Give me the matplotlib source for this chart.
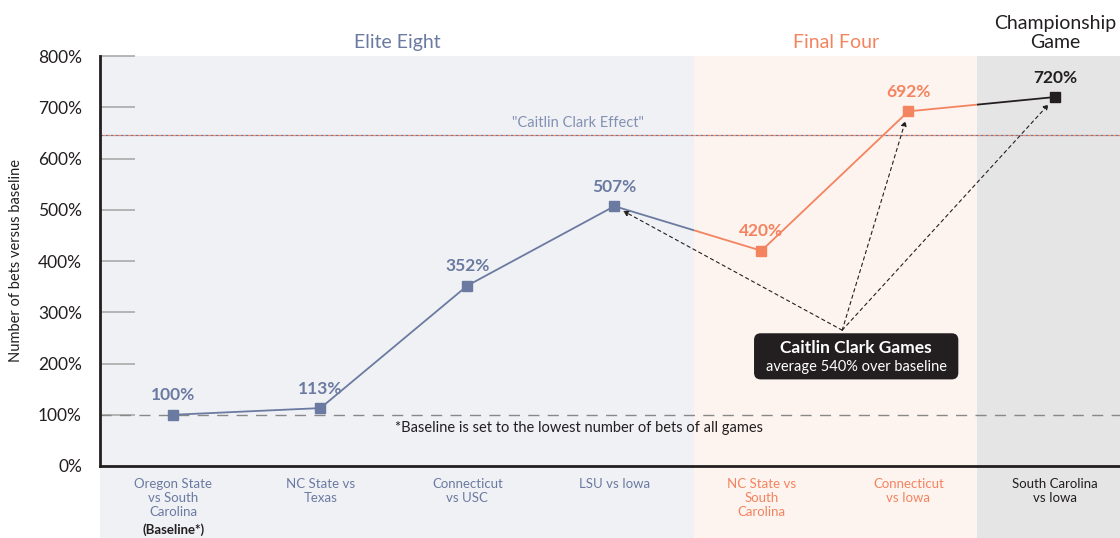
import matplotlib
matplotlib.use("Agg")
import matplotlib.pyplot as plt
from matplotlib.patches import Rectangle, FancyBboxPatch

plt.rcParams['font.family'] = ['Lato', 'DejaVu Sans']

############################################################################
# Data
############################################################################

games = ["Oregon State\nvs South\nCarolina", "NC State vs\nTexas", "Connecticut\nvs USC",
         "LSU vs Iowa", "NC State vs\nSouth\nCarolina", "Connecticut\nvs Iowa",
         "South Carolina\nvs Iowa"]
bets = [100, 113, 352, 507, 420, 692, 720]
labels = ["100%", "113%", "352%", "507%", "420%", "692%", "720%"]
stage = [0, 0, 0, 0, 1, 1, 2]
stage_names = ["Elite Eight", "Final Four", "Championship\nGame"]
effect = 646
baseline = 100
clark_games = [3, 5, 6]

blue = "#6b7aa1"
orange = "#f4845f"
black = "#231f20"
stage_col = [blue, orange, black]
stage_bg = ["#f0f1f5", "#fdf3ef", "#e5e5e5"]
stage_lim = [(-0.5, 3.54), (3.54, 5.47), (5.47, 6.45)]

############################################################################
# Figure
############################################################################

fig = plt.figure(figsize=(11.2, 5.38), dpi=100)
ax = fig.add_axes([100/1120, 72/538, 1020/1120, 410/538])
ax.set_xlim(-0.5, 6.44)
ax.set_ylim(0, 800)

below = -72/410
for i in range(3):
    ax.axvspan(stage_lim[i][0], stage_lim[i][1], ymin=below, ymax=1,
               color=stage_bg[i], lw=0, clip_on=False, zorder=0)

# line, coloured by stage (clip each copy to its region)
x = list(range(len(bets)))
for i in range(3):
    ln, = ax.plot(x, bets, color=stage_col[i], lw=1.3, zorder=3)
    r = Rectangle((stage_lim[i][0], 0), stage_lim[i][1]-stage_lim[i][0], 800,
                  transform=ax.transData)
    ln.set_clip_path(r)

for i in x:
    c = stage_col[stage[i]]
    ax.plot(i, bets[i], marker="s", ms=7.5, color=c, zorder=4)
    ax.text(i, bets[i] + 22, labels[i], ha="center", va="bottom",
            fontsize=12.5, fontweight="bold", color=c, zorder=5)

# baseline + caitlin clark effect line
ax.axhline(baseline, color="#888888", lw=1, dashes=(8, 6), zorder=2)
ax.axhline(effect, color=blue, lw=0.9, linestyle=(0, (2, 2)), zorder=2)
ax.axhline(effect, color=orange, lw=0.9, linestyle=(2, (2, 2)), zorder=2)
ax.text(2.75, effect + 10, '"Caitlin Clark Effect"', ha="center", va="bottom",
        fontsize=10.5, color="#8391b3")
ax.text(2.76, 74, "*Baseline is set to the lowest number of bets of all games",
        ha="center", va="center", fontsize=10.5, color=black)

# section titles
for i in range(3):
    cx = (stage_lim[i][0] + stage_lim[i][1]) / 2
    if i == 2:
        ax.text(6.0, 1.012, stage_names[i], transform=ax.get_xaxis_transform(),
                ha="center", va="bottom", fontsize=14, color=stage_col[i],
                linespacing=1.15)
    else:
        ax.text(cx, 1.034, stage_names[i], transform=ax.get_xaxis_transform(),
                ha="center", va="center", fontsize=14, color=stage_col[i])

# x labels
ax.set_xticks([])
for i in x:
    ax.text(i, -0.029, games[i], transform=ax.get_xaxis_transform(),
            ha="center", va="top", fontsize=9.5, color=stage_col[stage[i]],
            linespacing=1.2)
ax.text(0, -0.141, "(Baseline*)", transform=ax.get_xaxis_transform(),
        ha="center", va="top", fontsize=9.5, fontweight="bold", color=black)

# annotation box with arrows
for i in clark_games:
    ax.annotate("", xy=(i, bets[i]), xytext=(4.55, 265),
                arrowprops=dict(arrowstyle="-|>", linestyle=(0, (3, 3)), lw=0.8,
                                color=black, shrinkA=0, shrinkB=7,
                                mutation_scale=8))
box = FancyBboxPatch((3.95, 169), 1.39, 90, boxstyle="round,pad=0,rounding_size=0.045",
                     mutation_aspect=290, fc=black, ec="none", zorder=6)
ax.add_patch(box)
ax.text(4.645, 230, "Caitlin Clark Games", ha="center", va="center",
        fontsize=12.5, fontweight="bold", color="white", zorder=7)
ax.text(4.645, 193, "average 540% over baseline", ha="center", va="center",
        fontsize=10.5, color="white", zorder=7)

# Remove plot frame lines
ax.spines["top"].set_visible(False)
ax.spines["right"].set_visible(False)
ax.spines["left"].set_linewidth(2)
ax.spines["bottom"].set_linewidth(2)
ax.spines["left"].set_color(black)
ax.spines["bottom"].set_color(black)
ax.set_yticks(range(0, 801, 100))
ax.set_yticklabels([f"{v}%" for v in range(0, 801, 100)])
ax.tick_params(axis="y", direction="in", length=25, width=1.2, color="#aaaaaa",
               labelsize=12.5, labelcolor=black, pad=13)
ax.yaxis.get_major_ticks()[0].tick1line.set_visible(False)
ax.set_ylabel("Number of bets versus baseline", fontsize=10.5, color=black)
ax.yaxis.set_label_coords(-0.075, 0.5)

fig.savefig("out.png", dpi=100)
